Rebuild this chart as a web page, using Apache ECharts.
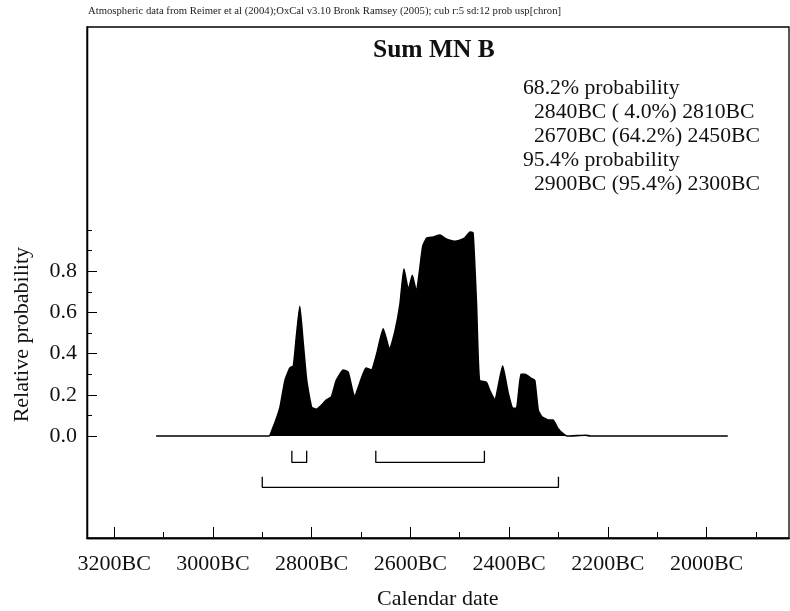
<!DOCTYPE html>
<html>
<head>
<meta charset="utf-8">
<script src="https://cdn.jsdelivr.net/npm/echarts@6/dist/echarts.min.js"></script>
<style>html,body{margin:0;padding:0;background:#fff}#c{width:790px;height:611px}</style>
</head>
<body>
<div id="c"></div>
<script>
// Calendar years (BC) and relative probability of the summed distribution
const years = [3115,2886,2880,2872,2864,2854,2844,2837,2831,2824,2817,2810,2800,2790,2780,2770,2760,2750,2736,2726,2713,2702,2690,2679,2668,2655,2642,2631,2621,2613,2604,2596,2588,2575,2567,2555,2540,2530,2520,2510,2500,2490,2479,2473,2466,2460,2446,2439,2429,2413,2402,2392,2385,2376,2368,2355,2348,2341,2334,2321,2311,2301,2290,2282,2245,2235,1957];
const probs = [0,0,0.03,0.08,0.14,0.27,0.33,0.34,0.48,0.63,0.45,0.27,0.14,0.13,0.15,0.175,0.19,0.27,0.32,0.31,0.19,0.26,0.33,0.32,0.40,0.52,0.42,0.51,0.64,0.81,0.71,0.78,0.70,0.92,0.96,0.965,0.975,0.96,0.95,0.945,0.95,0.96,0.99,0.985,0.64,0.27,0.26,0.22,0.175,0.34,0.21,0.135,0.135,0.30,0.30,0.28,0.27,0.126,0.094,0.078,0.078,0.037,0.01,0,0.004,0,0];
// Highest probability density ranges (from, to) in years BC
const range68 = [[2840,2810],[2670,2450]];
const range95 = [[2900,2300]];
// Tick values
const xMajorTicks = [3200,3000,2800,2600,2400,2200,2000];
const xMinorTicks = [3100,2900,2700,2500,2300,2100,1900];
const yMajorTicks = [0,0.2,0.4,0.6,0.8];
const yMinorTicks = [0.1,0.3,0.5,0.7,0.9,1.0];
// Texts
const headerText = 'Atmospheric data from Reimer et al (2004);OxCal v3.10 Bronk Ramsey (2005); cub r:5 sd:12 prob usp[chron]';
const titleText = 'Sum MN B';
const legendLines = ['68.2% probability','  2840BC ( 4.0%) 2810BC','  2670BC (64.2%) 2450BC','95.4% probability','  2900BC (95.4%) 2300BC'];
const xName = 'Calendar date';
const yName = 'Relative probability';

const FONT = '"Liberation Serif", "DejaVu Serif", serif';
const chart = echarts.init(document.getElementById('c'), null, {renderer: 'canvas'});

const curve = years.map((y, i) => [y, probs[i]]);
function bracketSeries(ranges, top, bottom) {
  return ranges.map(r => ({
    type: 'line', xAxisIndex: 0, yAxisIndex: 0, symbol: 'none', silent: true,
    lineStyle: {color: '#000', width: 1.3},
    data: [[r[0], top], [r[0], bottom], [r[1], bottom], [r[1], top]]
  }));
}

const X_MIN = 1833, X_MAX = 3255, Y_MIN = -0.495, Y_MAX = 1.985;
const baseX = {
  type: 'value', min: X_MIN, max: X_MAX, inverse: true, position: 'bottom',
  splitLine: {show: false},
  axisLine: {show: true, onZero: false, lineStyle: {color: '#000', width: 1.3}}
};
const baseY = {
  type: 'value', min: Y_MIN, max: Y_MAX, position: 'left',
  splitLine: {show: false},
  axisLine: {show: true, onZero: false, lineStyle: {color: '#000', width: 1.3}}
};

const legendGraphics = legendLines.map((t, i) => ({
  type: 'text', left: t.startsWith('  ') ? 534 : 523, top: 77 + i * 24,
  style: {text: t.trim(), font: '21.7px ' + FONT, fill: '#111'}
}));

chart.setOption({
  animation: false,
  backgroundColor: '#fff',
  grid: {left: 87, top: 27, width: 702, height: 511, show: true, borderColor: '#000', borderWidth: 1.3, backgroundColor: 'transparent'},
  xAxis: [
    Object.assign({}, baseX, {
      axisTick: {show: true, inside: true, length: 11, customValues: xMajorTicks, lineStyle: {color: '#000', width: 1}},
      axisLabel: {show: true, customValues: xMajorTicks, margin: 15, formatter: v => v + 'BC', fontFamily: FONT, fontSize: 22, color: '#111'}
    }),
    Object.assign({}, baseX, {
      axisTick: {show: true, inside: true, length: 6, customValues: xMinorTicks, lineStyle: {color: '#000', width: 1}},
      axisLabel: {show: false}
    })
  ],
  yAxis: [
    Object.assign({}, baseY, {
      axisTick: {show: true, inside: true, length: 10, customValues: yMajorTicks, lineStyle: {color: '#000', width: 1}},
      axisLabel: {show: true, customValues: yMajorTicks, margin: 10, formatter: v => v.toFixed(1), fontFamily: FONT, fontSize: 22, color: '#111'}
    }),
    Object.assign({}, baseY, {
      axisTick: {show: true, inside: true, length: 5, customValues: yMinorTicks, lineStyle: {color: '#000', width: 1}},
      axisLabel: {show: false}
    })
  ],
  series: [
    {
      type: 'line', xAxisIndex: 0, yAxisIndex: 0, symbol: 'none', silent: true,
      smooth: 0.15,
      lineStyle: {color: '#000', width: 1.6},
      areaStyle: {color: '#000', opacity: 1, origin: 0},
      data: curve
    }
  ].concat(bracketSeries(range68, -0.071, -0.128)).concat(bracketSeries(range95, -0.198, -0.249)),
  graphic: [
    {type: 'text', left: 88, top: 6, style: {text: headerText, font: '10.7px ' + FONT, fill: '#222'}},
    {type: 'text', left: 373, top: 37, style: {text: titleText, font: 'bold 25.5px ' + FONT, fill: '#111'}},
    {type: 'text', left: 377, top: 588, style: {text: xName, font: '22px ' + FONT, fill: '#111'}},
    {type: 'text', left: 11, top: 247, rotation: Math.PI / 2, style: {text: yName, font: '22px ' + FONT, fill: '#111'}}
  ].concat(legendGraphics)
});
</script>
</body>
</html>
